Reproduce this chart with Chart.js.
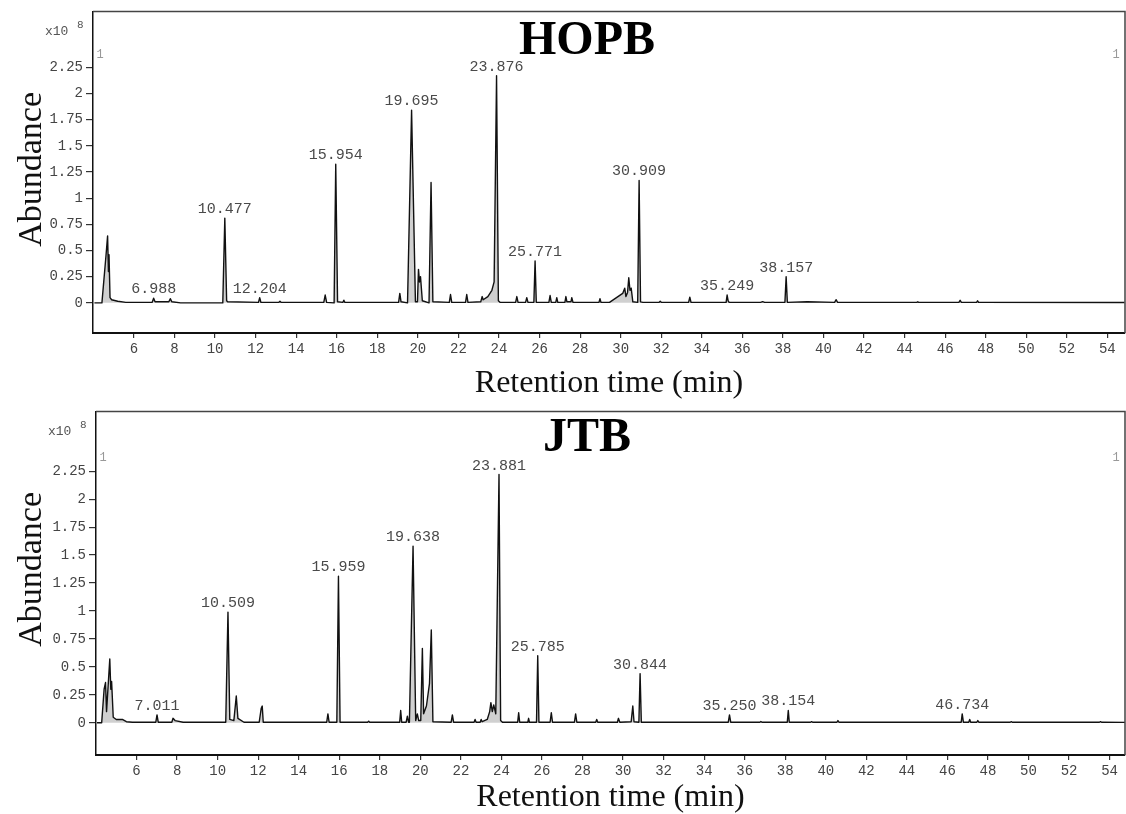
<!DOCTYPE html>
<html>
<head>
<meta charset="utf-8">
<title>HOPB / JTB chromatograms</title>
<script src="https://cdn.jsdelivr.net/npm/chart.js@4.4.1/dist/chart.umd.min.js"></script>
<style>
  html, body { margin: 0; padding: 0; background: #fff; }
  .panel { position: absolute; left: 0; }
  #top { top: 0; }
  #bottom { top: 400px; }
</style>
</head>
<body>
<div class="panel" id="top"><canvas id="hopbChart" width="1126" height="400"></canvas></div>
<div class="panel" id="bottom"><canvas id="jtbChart" width="1126" height="414"></canvas></div>
<script>
// --- data (time in min, abundance x10^8) ---

const xTicks = [6, 8, 10, 12, 14, 16, 18, 20, 22, 24, 26, 28, 30, 32, 34, 36, 38, 40, 42, 44, 46, 48, 50, 52, 54];
const yTicks = [0, 0.25, 0.5, 0.75, 1, 1.25, 1.5, 1.75, 2, 2.25];

// HOPB trace vertices [time, abundance]
const hopbTrace = [
  [4.05, 0], [4.42, 0], [4.62, 0.45], [4.70, 0.64], [4.74, 0.30], [4.77, 0.46], [4.82, 0.05],
  [4.90, 0.03], [5.20, 0.015], [5.60, 0.005], [6.90, 0.005], [6.97, 0.045], [7.04, 0.01],
  [7.72, 0.01], [7.79, 0.04], [7.87, 0.01], [8.30, 0], [10.38, 0], [10.48, 0.81], [10.57, 0.02],
  [10.62, 0.01], [12.14, 0.005], [12.20, 0.05], [12.26, 0.005], [13.15, 0.005], [13.20, 0.015],
  [13.25, 0.005], [15.36, 0.005], [15.43, 0.075], [15.50, 0.005], [15.87, 0], [15.95, 1.325],
  [16.04, 0.01], [16.30, 0.005], [16.35, 0.025], [16.40, 0.005], [19.05, 0.005], [19.11, 0.09],
  [19.17, 0.01], [19.49, 0], [19.69, 1.84], [19.88, 0.01], [19.98, 0.01], [20.03, 0.32],
  [20.08, 0.20], [20.13, 0.25], [20.22, 0.02], [20.55, 0], [20.65, 1.15], [20.74, 0.01],
  [21.55, 0.005], [21.61, 0.08], [21.67, 0.005], [22.35, 0.005], [22.41, 0.08], [22.47, 0.005],
  [23.10, 0.01], [23.17, 0.06], [23.22, 0.03], [23.45, 0.06], [23.65, 0.12], [23.76, 0.20],
  [23.88, 2.17], [23.97, 0.02], [24.05, 0.005], [24.82, 0.005], [24.88, 0.06], [24.94, 0.005],
  [25.31, 0.005], [25.37, 0.05], [25.43, 0.005], [25.72, 0.005], [25.78, 0.40], [25.84, 0.005],
  [26.46, 0.005], [26.52, 0.07], [26.58, 0.005], [26.80, 0.005], [26.85, 0.05], [26.90, 0.005],
  [27.25, 0.005], [27.30, 0.06], [27.35, 0.01], [27.55, 0.01], [27.59, 0.05], [27.65, 0.005],
  [28.93, 0.005], [28.98, 0.04], [29.03, 0.005], [29.45, 0.005], [30.10, 0.09], [30.20, 0.14],
  [30.26, 0.06], [30.34, 0.10], [30.40, 0.24], [30.46, 0.12], [30.52, 0.14], [30.60, 0.01],
  [30.84, 0.005], [30.91, 1.17], [30.98, 0.01], [31.10, 0.005], [31.90, 0.005], [31.95, 0.015],
  [32.00, 0.005], [33.35, 0.005], [33.41, 0.055], [33.47, 0.005], [35.20, 0.005], [35.25, 0.075],
  [35.30, 0.02], [35.35, 0.005], [36.90, 0.005], [37.00, 0.012], [37.10, 0.005], [38.10, 0.005],
  [38.16, 0.25], [38.22, 0.005], [39.20, 0.01], [40.55, 0.005], [40.62, 0.03], [40.70, 0.005],
  [44.60, 0.005], [44.65, 0.01], [44.70, 0.005], [46.68, 0.005], [46.74, 0.025], [46.80, 0.005],
  [47.55, 0.005], [47.60, 0.02], [47.65, 0.005], [54.85, 0.003]
];
const hopbPeaks = [6.988, 10.477, 12.204, 15.954, 19.695, 23.876, 25.771, 30.909, 35.249, 38.157];

// JTB trace vertices [time, abundance]
const jtbTrace = [
  [4.05, 0], [4.28, 0], [4.40, 0.30], [4.47, 0.36], [4.52, 0.10], [4.68, 0.57], [4.73, 0.30],
  [4.77, 0.37], [4.85, 0.05], [5.00, 0.03], [5.30, 0.03], [5.50, 0.01], [5.80, 0.005],
  [6.95, 0.005], [7.01, 0.07], [7.07, 0.005], [7.74, 0.005], [7.80, 0.04], [7.90, 0.02],
  [8.30, 0.005], [10.40, 0.005], [10.51, 0.99], [10.60, 0.03], [10.80, 0.02], [10.92, 0.24],
  [11.00, 0.04], [11.30, 0.005], [12.05, 0.005], [12.15, 0.13], [12.20, 0.15], [12.25, 0.005],
  [15.38, 0.005], [15.44, 0.08], [15.50, 0.005], [15.88, 0.005], [15.96, 1.31], [16.04, 0.005],
  [17.40, 0.005], [17.45, 0.015], [17.50, 0.005], [18.98, 0.005], [19.03, 0.11], [19.08, 0.005],
  [19.30, 0.005], [19.36, 0.06], [19.42, 0.005], [19.46, 0.005], [19.64, 1.58], [19.77, 0.02],
  [19.85, 0.08], [19.92, 0.02], [20.02, 0.02], [20.10, 0.665], [20.16, 0.08], [20.30, 0.15],
  [20.45, 0.35], [20.54, 0.83], [20.62, 0.01], [21.52, 0.005], [21.58, 0.07], [21.64, 0.005],
  [22.65, 0.005], [22.70, 0.03], [22.75, 0.005], [22.95, 0.005], [23.00, 0.03], [23.05, 0.01],
  [23.30, 0.03], [23.42, 0.10], [23.48, 0.18], [23.55, 0.10], [23.62, 0.16], [23.72, 0.08],
  [23.88, 2.22], [23.96, 0.02], [24.05, 0.005], [24.80, 0.005], [24.85, 0.09], [24.90, 0.005],
  [25.30, 0.005], [25.34, 0.04], [25.38, 0.005], [25.73, 0.005], [25.79, 0.60], [25.85, 0.005],
  [26.40, 0.005], [26.46, 0.09], [26.52, 0.005], [27.60, 0.005], [27.66, 0.08], [27.72, 0.005],
  [28.65, 0.005], [28.70, 0.03], [28.75, 0.005], [29.72, 0.005], [29.77, 0.04], [29.84, 0.005],
  [30.40, 0.01], [30.48, 0.15], [30.54, 0.01], [30.78, 0.005], [30.84, 0.44], [30.90, 0.005],
  [33.00, 0.005], [35.19, 0.005], [35.25, 0.07], [35.31, 0.005], [36.75, 0.005], [36.80, 0.012],
  [36.85, 0.005], [38.10, 0.005], [38.15, 0.11], [38.20, 0.005], [39.25, 0.005], [39.30, 0.01],
  [39.35, 0.005], [40.55, 0.005], [40.60, 0.02], [40.65, 0.005], [46.68, 0.005], [46.73, 0.08],
  [46.79, 0.005], [47.05, 0.005], [47.10, 0.03], [47.15, 0.005], [47.45, 0.005], [47.50, 0.02],
  [47.55, 0.005], [49.10, 0.005], [49.15, 0.01], [49.20, 0.005], [53.50, 0.005], [53.55, 0.01],
  [53.60, 0.005], [54.76, 0.004]
];
const jtbPeaks = [7.011, 10.509, 15.959, 19.638, 23.881, 25.785, 30.844, 35.250, 38.154, 46.734];

const MONO = '"Liberation Mono", "DejaVu Sans Mono", monospace';
const SERIF = '"Liberation Serif", "DejaVu Serif", serif';

// texts drawn inside / around the plot box (title, peak labels, "1" marks, x10^8, Abundance)
function makeDecor(cfg) {
  return {
    id: 'panelDecor',
    afterDatasetsDraw(chart) {
      const { ctx, chartArea: area, scales: { x, y } } = chart;
      ctx.save();

      // top and right edges of the frame
      ctx.strokeStyle = '#444';
      ctx.lineWidth = 1.5;
      ctx.beginPath();
      ctx.moveTo(area.left, area.top);
      ctx.lineTo(area.right, area.top);
      ctx.lineTo(area.right, area.bottom);
      ctx.stroke();

      // retention time labels above the apexes
      ctx.font = '15px ' + MONO;
      ctx.fillStyle = '#4a4a4a';
      ctx.textAlign = 'center';
      ctx.textBaseline = 'alphabetic';
      cfg.peaks.forEach(t => {
        const near = cfg.trace.filter(p => Math.abs(p[0] - t) < 0.12);
        const apex = near.reduce((a, b) => (b[1] > a[1] ? b : a));
        ctx.fillText(t.toFixed(3), x.getPixelForValue(apex[0]), y.getPixelForValue(apex[1]) - 5);
      });

      // "1" markers in both upper corners
      ctx.font = '12px ' + MONO;
      ctx.fillStyle = '#999';
      ctx.fillText('1', area.left + 7, area.top + cfg.markOffset);
      ctx.fillText('1', area.right - 9, area.top + cfg.markOffset);

      // x10^8 multiplier
      ctx.fillStyle = '#555';
      ctx.textAlign = 'left';
      ctx.font = '13px ' + MONO;
      ctx.fillText('x10', area.left - 48, area.top + 24);
      ctx.font = '11px ' + MONO;
      ctx.fillText('8', area.left - 16, area.top + 17);

      // panel title
      ctx.font = 'bold 48px ' + SERIF;
      ctx.fillStyle = '#000';
      ctx.textAlign = 'center';
      ctx.fillText(cfg.title, 587, area.top + cfg.titleOffset);

      // y axis title
      ctx.translate(32, area.top + 158);
      ctx.rotate(-Math.PI / 2);
      ctx.font = '34px ' + SERIF;
      ctx.fillStyle = '#111';
      ctx.textBaseline = 'middle';
      ctx.fillText('Abundance', 0, 0);

      ctx.restore();
    }
  };
}

function buildChart(canvasId, cfg) {
  const ctx = document.getElementById(canvasId).getContext('2d');
  return new Chart(ctx, {
    type: 'line',
    data: {
      datasets: [{
        label: cfg.title,
        data: cfg.trace.map(p => ({ x: p[0], y: p[1] })),
        borderColor: '#111',
        borderWidth: 1.4,
        borderJoinStyle: 'round',
        backgroundColor: 'rgba(150, 150, 150, 0.45)',
        fill: 'origin',
        pointRadius: 0,
        tension: 0
      }]
    },
    options: {
      responsive: false,
      animation: false,
      layout: { padding: { top: cfg.padTop, right: 1, bottom: 0, left: 0 } },
      plugins: { legend: { display: false }, tooltip: { enabled: false } },
      scales: {
        x: {
          type: 'linear',
          min: cfg.xMin,
          max: cfg.xMax,
          afterBuildTicks: s => { s.ticks = xTicks.map(v => ({ value: v })); },
          afterFit: s => { s.height = cfg.xAxisHeight; },
          ticks: {
            autoSkip: false, maxRotation: 0, padding: 3,
            color: '#444', font: { family: MONO, size: 14 },
            callback: v => String(v)
          },
          grid: { drawOnChartArea: false, tickLength: 5, color: '#333', lineWidth: 1.2 },
          border: { color: '#111', width: 2 },
          title: {
            display: true, text: 'Retention time (min)', color: '#111',
            font: { family: SERIF, size: 32, lineHeight: 1 },
            padding: { top: 0, bottom: 0 }
          }
        },
        y: {
          min: -0.288,
          max: 2.785,
          afterBuildTicks: s => { s.ticks = yTicks.map(v => ({ value: v })); },
          afterFit: s => { s.width = cfg.yAxisWidth; },
          ticks: {
            padding: 3, color: '#444', font: { family: MONO, size: 14 },
            callback: v => String(v)
          },
          grid: { drawOnChartArea: false, tickLength: 7, color: '#333', lineWidth: 1.2 },
          border: { color: '#111', width: 1.5 }
        }
      }
    },
    plugins: [makeDecor(cfg)]
  });
}

buildChart('hopbChart', {
  title: 'HOPB', trace: hopbTrace, peaks: hopbPeaks,
  xMin: 3.98, xMax: 54.87, padTop: 10, xAxisHeight: 67, yAxisWidth: 93,
  titleOffset: 43, markOffset: 47
});

buildChart('jtbChart', {
  title: 'JTB', trace: jtbTrace, peaks: jtbPeaks,
  xMin: 4.0, xMax: 54.76, padTop: 7, xAxisHeight: 59, yAxisWidth: 96,
  titleOffset: 40, markOffset: 50
});
</script>
</body>
</html>
